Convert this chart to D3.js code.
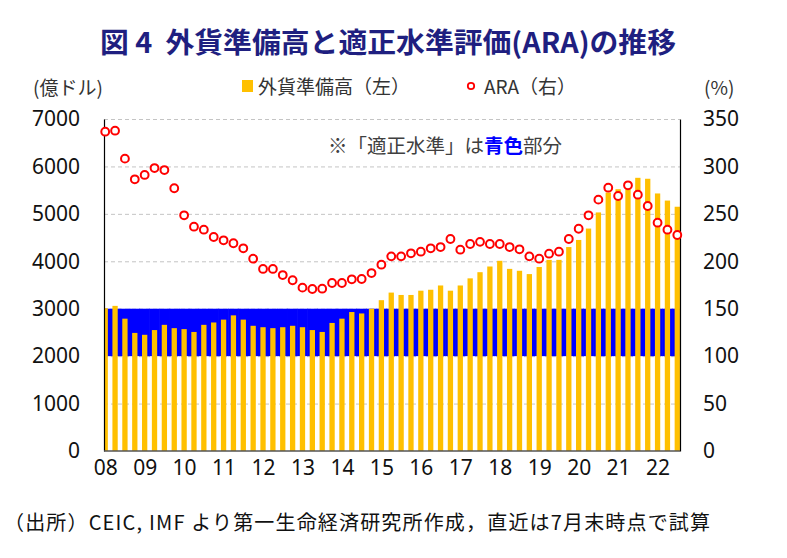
<!DOCTYPE html>
<html>
<head>
<meta charset="UTF-8">
<script src="https://cdn.jsdelivr.net/npm/d3@7"></script>
<style>
  body { margin: 0; background: #fff; }
  text { font-family: "Noto Sans CJK JP", "Noto Sans", sans-serif; }
  .grid line { stroke: #c4c4c4; stroke-dasharray: 4,3; }
  .grid path { display: none; }
</style>
</head>
<body>
<svg width="787" height="558"></svg>
<script>
// quarterly periods, last point is end of July 2022
var periods = [
  "2008Q1","2008Q2","2008Q3","2008Q4","2009Q1","2009Q2","2009Q3","2009Q4",
  "2010Q1","2010Q2","2010Q3","2010Q4","2011Q1","2011Q2","2011Q3","2011Q4",
  "2012Q1","2012Q2","2012Q3","2012Q4","2013Q1","2013Q2","2013Q3","2013Q4",
  "2014Q1","2014Q2","2014Q3","2014Q4","2015Q1","2015Q2","2015Q3","2015Q4",
  "2016Q1","2016Q2","2016Q3","2016Q4","2017Q1","2017Q2","2017Q3","2017Q4",
  "2018Q1","2018Q2","2018Q3","2018Q4","2019Q1","2019Q2","2019Q3","2019Q4",
  "2020Q1","2020Q2","2020Q3","2020Q4","2021Q1","2021Q2","2021Q3","2021Q4",
  "2022Q1","2022Q2","2022M07"
];

// 外貨準備高（億ドル）
var reserves = [
  3010, 3060, 2790, 2490, 2450, 2550, 2660, 2590, 2570, 2510,
  2660, 2710, 2770, 2860, 2770, 2640, 2610, 2590, 2610, 2640,
  2610, 2550, 2510, 2700, 2790, 2930, 2900, 3000, 3180, 3340,
  3290, 3290, 3380, 3400, 3490, 3380, 3490, 3640, 3770, 3890,
  4010, 3840, 3800, 3730, 3880, 4030, 4030, 4300, 4450, 4690,
  5030, 5450, 5520, 5690, 5760, 5740, 5430, 5280, 5150
];

// ARA (%)
var ara = [
  336.6, 337.7, 308.2, 286.4, 291.0, 298.3, 296.2, 277.0, 248.5, 236.5,
  233.3, 225.6, 222.1, 219.0, 213.7, 202.7, 191.9, 191.9, 185.5, 180.0,
  172.2, 170.8, 171.1, 177.1, 177.1, 181.0, 181.3, 187.6, 196.4, 205.2,
  205.2, 208.4, 210.1, 213.7, 215.0, 223.5, 212.2, 218.2, 220.5, 218.2,
  218.2, 215.0, 212.6, 205.2, 202.7, 208.0, 210.1, 223.5, 234.3, 248.5,
  265.0, 277.6, 268.8, 280.1, 270.2, 258.3, 240.7, 233.3, 227.7
];

// 適正水準 = ARAの100〜150%
var adequateRange = [100, 150];

var leftTicks = [0, 1000, 2000, 3000, 4000, 5000, 6000, 7000];
var rightTicks = [0, 50, 100, 150, 200, 250, 300, 350];

var svg = d3.select("svg");
var plotL = 104, plotR = 680, plotT = 119, plotB = 451;

var x = d3.scalePoint().domain(periods).range([105.2, 677.3]);
var step = x.step();
var barW = 5.3;
var yL = d3.scaleLinear().domain([0, 7000]).range([plotB, plotT]);
var yR = d3.scaleLinear().domain([0, 350]).range([plotB, plotT]);

svg.append("clipPath").attr("id", "plotclip")
  .append("rect")
  .attr("x", plotL).attr("y", plotT - 2)
  .attr("width", plotR - plotL).attr("height", plotB - plotT + 2);

// title
svg.append("text")
  .attr("x", 100).attr("y", 53)
  .attr("textLength", 576).attr("lengthAdjust", "spacingAndGlyphs")
  .attr("font-size", "28px").attr("font-weight", "bold")
  .attr("fill", "#1f1f80")
  .style("white-space", "pre")
  .text("図 4  外貨準備高と適正水準評価(ARA)の推移");

// grid lines
svg.append("g")
  .attr("class", "grid")
  .attr("transform", "translate(" + plotL + ",0)")
  .call(d3.axisLeft(yL).tickValues(leftTicks.slice(1)).tickSize(-(plotR - plotL)).tickFormat(""));

var g = svg.append("g").attr("clip-path", "url(#plotclip)");

// adequate level band (blue)
g.selectAll(".band")
  .data(periods)
  .enter().append("rect")
  .attr("class", "band")
  .attr("x", function(d) { return x(d) - step / 2 - 0.3; })
  .attr("y", yR(adequateRange[1]))
  .attr("width", step + 0.6)
  .attr("height", yR(adequateRange[0]) - yR(adequateRange[1]))
  .attr("fill", "#0000ff");

// reserves bars
g.selectAll(".bar")
  .data(reserves)
  .enter().append("rect")
  .attr("class", "bar")
  .attr("x", function(d, i) { return x(periods[i]) - barW / 2; })
  .attr("y", function(d) { return yL(d); })
  .attr("width", barW)
  .attr("height", function(d) { return plotB - yL(d); })
  .attr("fill", "#ffc000");

// axes
var tickFont = function(sel) {
  sel.selectAll("text").attr("font-size", "21px").attr("fill", "#111")
    .style("font-family", "'Noto Sans', sans-serif");
};

svg.append("g")
  .attr("transform", "translate(" + plotL + ",0)")
  .call(d3.axisLeft(yL).tickValues(leftTicks).tickFormat(d3.format("d")).tickSize(0).tickPadding(24))
  .call(tickFont)
  .call(function(a) { a.select(".domain").attr("stroke", "#000").attr("stroke-width", 1.2); });

svg.append("g")
  .attr("transform", "translate(" + plotR + ",0)")
  .call(d3.axisRight(yR).tickValues(rightTicks).tickFormat(d3.format("d")).tickSize(0).tickPadding(23))
  .call(tickFont)
  .call(function(a) { a.select(".domain").attr("stroke", "#000").attr("stroke-width", 1.2); });

svg.append("g")
  .attr("transform", "translate(0," + plotB + ")")
  .call(d3.axisBottom(x)
    .tickValues(periods.filter(function(p) { return p.slice(4) === "Q1"; }))
    .tickFormat(function(p) { return p.slice(2, 4); })
    .tickSize(0).tickPadding(9))
  .call(tickFont)
  .call(function(a) {
    a.select(".domain").attr("d", "M" + plotL + ",0H" + plotR)
      .attr("stroke", "#555").attr("stroke-width", 1.5);
  });

// ARA circles
svg.selectAll(".ara")
  .data(ara)
  .enter().append("circle")
  .attr("class", "ara")
  .attr("cx", function(d, i) { return x(periods[i]); })
  .attr("cy", function(d) { return yR(d); })
  .attr("r", 3.9)
  .attr("fill", "#fff")
  .attr("stroke", "#ff0000")
  .attr("stroke-width", 2);

// unit labels and legend
svg.append("text").attr("x", 33).attr("y", 95)
  .attr("font-size", "19px").attr("fill", "#333").text("(億ドル)");
svg.append("text").attr("x", 704).attr("y", 95)
  .attr("font-size", "19px").attr("fill", "#333").text("(%)");

svg.append("rect").attr("x", 242).attr("y", 80)
  .attr("width", 11).attr("height", 12).attr("fill", "#ffc000");
svg.append("text").attr("x", 258).attr("y", 94)
  .attr("font-size", "19px").attr("fill", "#333").text("外貨準備高（左）");

svg.append("circle").attr("cx", 471).attr("cy", 86).attr("r", 3.2)
  .attr("fill", "#fff").attr("stroke", "#ff0000").attr("stroke-width", 1.8);
svg.append("text").attr("x", 484).attr("y", 94)
  .attr("font-size", "19px").attr("fill", "#333").text("ARA（右）");

// note
var note = svg.append("text").attr("x", 328).attr("y", 153)
  .attr("font-size", "19.5px").attr("fill", "#404040");
note.append("tspan").text("※「適正水準」は");
note.append("tspan").attr("fill", "#0000ff").attr("font-weight", "bold").text("青色");
note.append("tspan").text("部分");

// source
svg.append("text").attr("x", 4).attr("y", 530)
  .attr("font-size", "20px").attr("fill", "#111")
  .attr("textLength", 706).attr("lengthAdjust", "spacing")
  .text("（出所）CEIC, IMF より第一生命経済研究所作成，直近は7月末時点で試算");
</script>
</body>
</html>
